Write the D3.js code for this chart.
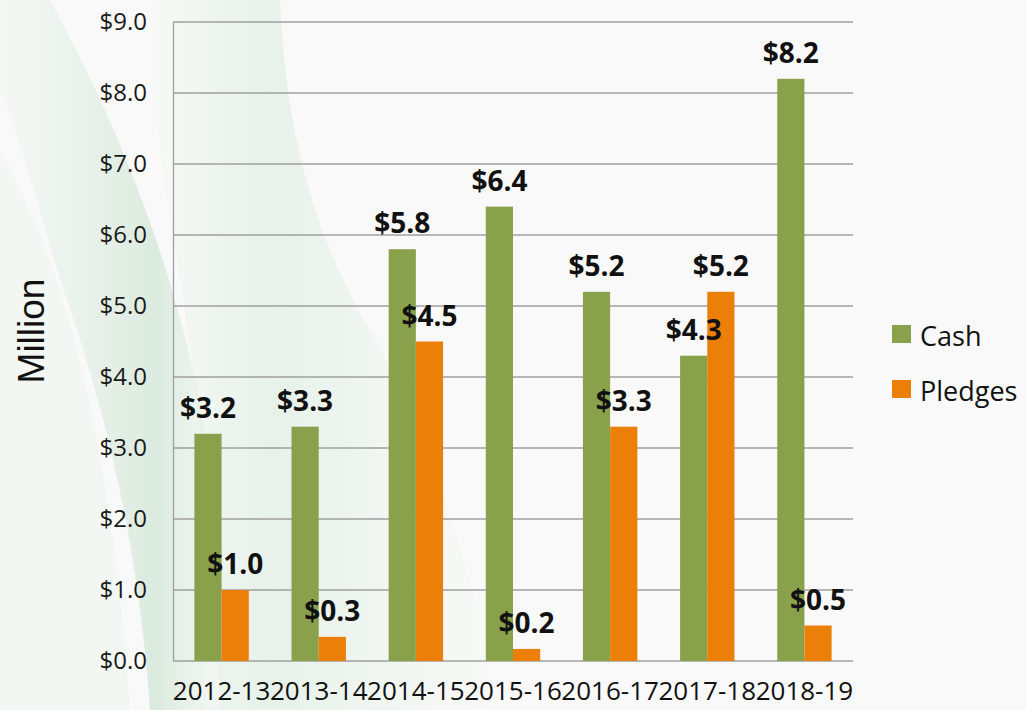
<!DOCTYPE html>
<html>
<head>
<meta charset="utf-8">
<script src="https://cdn.jsdelivr.net/npm/d3@7"></script>
<style>
  body { margin: 0; background: #f8f9f8; }
  svg { display: block; }
</style>
</head>
<body>
<div id="chart"></div>
<script>
// data (millions of dollars)
var years = ['2012-13', '2013-14', '2014-15', '2015-16', '2016-17', '2017-18', '2018-19'];
var seriesNames = ['Cash', 'Pledges'];
var cash = [3.2, 3.3, 5.8, 6.4, 5.2, 4.3, 8.2];
var pledges = [1.0, 0.34, 4.5, 0.17, 3.3, 5.2, 0.5];
var yTicks = [0, 1, 2, 3, 4, 5, 6, 7, 8, 9];

var colors = {Cash: '#8aa14c', Pledges: '#ec7f07'};

var W = 1027, H = 710;
var plot = {left: 173, right: 853, top: 22, bottom: 661};

var svg = d3.select('#chart').append('svg')
    .attr('width', W)
    .attr('height', H);

// background with the soft green swoosh on the left
svg.append('rect').attr('width', W).attr('height', H).attr('fill', '#f8f9f8');

var defs = svg.append('defs');
var g1 = defs.append('linearGradient').attr('id', 'sw1').attr('x1', 0).attr('y1', 0).attr('x2', 1).attr('y2', 0);
g1.append('stop').attr('offset', '0%').attr('stop-color', '#d6e9da').attr('stop-opacity', 0.1);
g1.append('stop').attr('offset', '65%').attr('stop-color', '#c8e1cd').attr('stop-opacity', 0.6);
g1.append('stop').attr('offset', '100%').attr('stop-color', '#d6eadb').attr('stop-opacity', 0.0);

var g2 = defs.append('linearGradient').attr('id', 'sw2').attr('x1', 0).attr('y1', 0).attr('x2', 1).attr('y2', 0);
g2.append('stop').attr('offset', '0%').attr('stop-color', '#d8ebdc').attr('stop-opacity', 0.0);
g2.append('stop').attr('offset', '35%').attr('stop-color', '#d8ebdc').attr('stop-opacity', 0.55);
g2.append('stop').attr('offset', '100%').attr('stop-color', '#e4f1e6').attr('stop-opacity', 0.0);

svg.append('path')
    .attr('d', 'M0,0 L50,0 C110,110 165,240 195,380 C215,480 230,600 240,710 L150,710 C140,560 110,420 60,280 C40,210 20,140 0,90 Z')
    .attr('fill', 'url(#sw1)');

svg.append('path')
    .attr('d', 'M150,0 L280,0 C285,120 310,230 370,330 C430,440 470,560 500,710 L220,710 C215,560 200,400 175,250 C160,160 150,80 150,0 Z')
    .attr('fill', 'url(#sw2)');

svg.append('path')
    .attr('d', 'M0,150 C60,260 110,420 130,710 L0,710 Z')
    .attr('fill', '#eef5ef').attr('opacity', 0.5);

// scales
var x0 = d3.scaleBand()
    .domain(years)
    .range([plot.left, plot.right])
    .paddingInner(0.44)
    .paddingOuter(0.22);

var x1 = d3.scaleBand()
    .domain(seriesNames)
    .range([0, x0.bandwidth()]);

var y = d3.scaleLinear()
    .domain([0, 9])
    .range([plot.bottom, plot.top]);

// gridlines
svg.append('g')
    .selectAll('line')
    .data(yTicks)
    .enter()
    .append('line')
    .attr('x1', plot.left)
    .attr('x2', plot.right)
    .attr('y1', function(d) { return y(d); })
    .attr('y2', function(d) { return y(d); })
    .attr('stroke', '#9f9f9f')
    .attr('stroke-width', 1.3);

// y axis
var yAxis = svg.append('g')
    .attr('transform', 'translate(' + plot.left + ',0)')
    .call(d3.axisLeft(y).tickValues(yTicks).tickSize(0).tickPadding(26)
        .tickFormat(function(d) { return '$' + d.toFixed(1); }));
yAxis.select('.domain').attr('stroke', '#9f9f9f').attr('stroke-width', 1.3);
yAxis.selectAll('text')
    .style('font-family', '"Open Sans", sans-serif')
    .style('font-size', '24px')
    .attr('fill', '#1a1a1a');

// x axis labels
var xAxis = svg.append('g')
    .attr('transform', 'translate(0,' + plot.bottom + ')')
    .call(d3.axisBottom(x0).tickSize(0).tickPadding(21));
xAxis.select('.domain').remove();
xAxis.selectAll('text')
    .style('font-family', '"Open Sans", sans-serif')
    .style('font-size', '26px')
    .attr('fill', '#111');

// y title
svg.append('text')
    .attr('transform', 'translate(44,331) rotate(-90)')
    .attr('text-anchor', 'middle')
    .style('font-family', '"Liberation Sans", Arial, sans-serif')
    .style('font-size', '37px')
    .attr('fill', '#111')
    .text('Million');

// bars
var rows = years.map(function(yr, i) {
    return {year: yr, values: [{key: 'Cash', value: cash[i]}, {key: 'Pledges', value: pledges[i]}]};
});

var groups = svg.selectAll('.grp')
    .data(rows)
    .enter()
    .append('g')
    .attr('class', 'grp')
    .attr('transform', function(d) { return 'translate(' + x0(d.year) + ',0)'; });

groups.selectAll('rect')
    .data(function(d) { return d.values; })
    .enter()
    .append('rect')
    .attr('x', function(d) { return x1(d.key); })
    .attr('y', function(d) { return y(d.value); })
    .attr('width', x1.bandwidth())
    .attr('height', function(d) { return y(0) - y(d.value); })
    .attr('fill', function(d) { return colors[d.key]; });

// value labels (drawn after all bars so they sit on top)
groups.selectAll('text.val')
    .data(function(d) { return d.values; })
    .enter()
    .append('text')
    .attr('class', 'val')
    .attr('x', function(d) { return x1(d.key) + x1.bandwidth() / 2; })
    .attr('y', function(d) { return y(d.value) - 16; })
    .attr('text-anchor', 'middle')
    .style('font-family', '"Open Sans", sans-serif')
    .style('font-weight', 'bold')
    .style('font-size', '28px')
    .attr('fill', '#111')
    .text(function(d) { return '$' + d.value.toFixed(1); });

svg.selectAll('text.val').raise();

// legend
var legend = svg.selectAll('.leg')
    .data(seriesNames)
    .enter()
    .append('g')
    .attr('class', 'leg')
    .attr('transform', function(d, i) { return 'translate(892,' + (325 + i * 55) + ')'; });

legend.append('rect')
    .attr('width', 19)
    .attr('height', 18)
    .attr('fill', function(d) { return colors[d]; });

legend.append('text')
    .attr('x', 28)
    .attr('y', 21)
    .style('font-family', '"Open Sans", sans-serif')
    .style('font-size', '27px')
    .attr('fill', '#111')
    .text(function(d) { return d; });
</script>
</body>
</html>
